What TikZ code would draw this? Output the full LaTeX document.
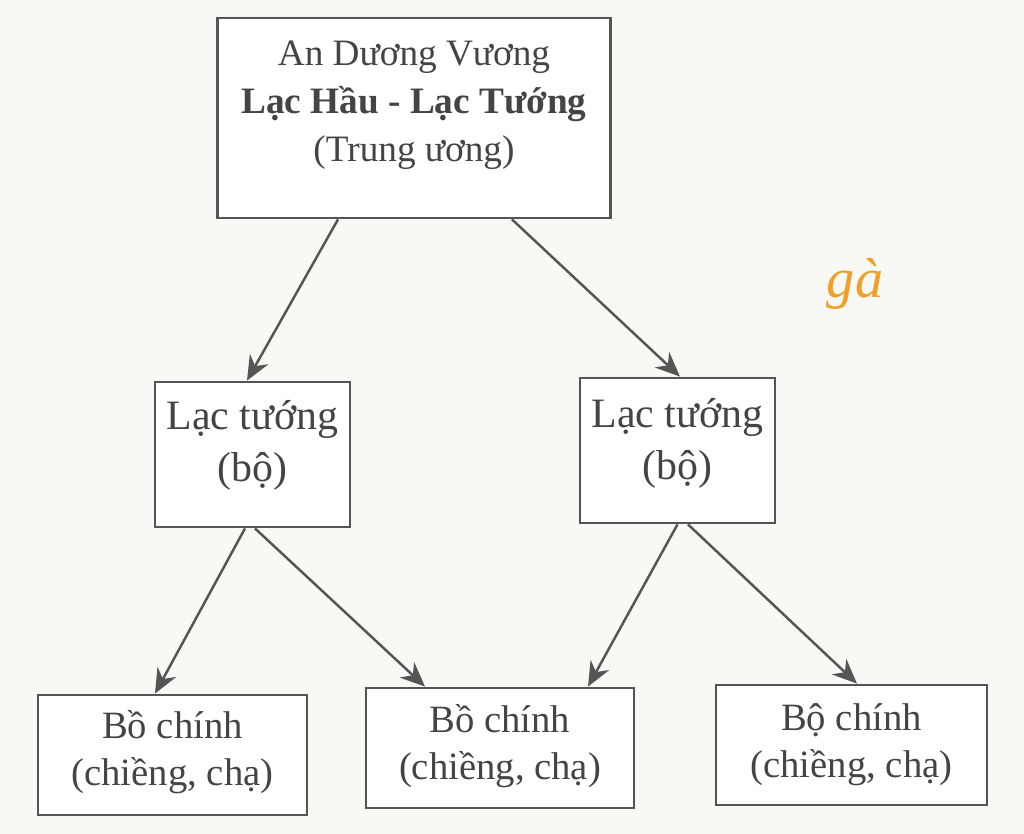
\documentclass[tikz,border=0pt]{standalone}
\usepackage{fontspec}
\setmainfont{Liberation Serif}
\usepackage{tikz}
\usetikzlibrary{arrows.meta}
\definecolor{scanbg}{HTML}{F8F8F5}
\definecolor{ink}{HTML}{555555}
\definecolor{pen}{HTML}{F0A028}
\tikzset{
  box/.style={draw=ink,line width=0.8pt,fill=white},
  txt/.style={align=center,text=ink!80!black,font=\fontsize{11}{13.4}\selectfont},
  link/.style={draw=ink,line width=0.7pt,-{Stealth[length=7pt,width=6pt]}}
}

\begin{document}
\begin{tikzpicture}
            \fill[scanbg] (0,0) rectangle (10.24,8.34);
            \useasboundingbox (0,0) rectangle (10.24,8.34);
            % boxes
            \node[box,minimum width=3.93cm,minimum height=2cm] (tw) at (4.14,7.16) {};
            \node[box,minimum width=1.95cm,minimum height=1.45cm] (bo1) at (2.525,3.795) {};
            \node[box,minimum width=1.95cm,minimum height=1.45cm] (bo2) at (6.775,3.835) {};
            \node[box,minimum width=2.69cm,minimum height=1.2cm] (ch1) at (1.725,0.79) {};
            \node[box,minimum width=2.68cm,minimum height=1.2cm] (ch2) at (5.00,0.86) {};
            \node[box,minimum width=2.71cm,minimum height=1.2cm] (ch3) at (8.515,0.89) {};
            % texts
            \node[txt,font=\fontsize{10.6}{13.6}\selectfont] (twtxt) at ([yshift=0.13cm]tw.center) {An Dương Vương\\\textbf{Lạc Hầu - Lạc Tướng}\\(Trung ương)};
            \node[txt,font=\fontsize{11.9}{14.7}\selectfont] (bo1txt) at ([yshift=0.09cm]bo1.center) {Lạc tướng\\(bộ)};
            \node[txt,font=\fontsize{11.9}{14.7}\selectfont] (bo2txt) at ([yshift=0.07cm]bo2.center) {Lạc tướng\\(bộ)};
            \node[txt] (ch1txt) at ([yshift=0.03cm]ch1.center) {Bồ chính\\(chiềng, chạ)};
            \node[txt] (ch2txt) at ([yshift=0.02cm]ch2.center) {Bồ chính\\(chiềng, chạ)};
            \node[txt] (ch3txt) at (ch3.center) {Bộ chính\\(chiềng, chạ)};
            % links
            \draw[link] ([xshift=-0.76cm]tw.south) -- ([xshift=-0.055cm]bo1.north);
            \draw[link] ([xshift=0.98cm]tw.south) -- ([xshift=0.025cm]bo2.north);
            \draw[link] ([xshift=-0.075cm]bo1.south) -- ([xshift=-0.175cm]ch1.north);
            \draw[link] ([xshift=0.025cm]bo1.south) -- ([xshift=-0.75cm]ch2.north);
            \draw[link] (bo2.south) -- ([xshift=0.88cm]ch2.north);
            \draw[link] ([xshift=0.105cm]bo2.south) -- ([xshift=0.055cm]ch3.north);
            % note in pen
            \node[text=pen,font=\fontsize{16}{16}\itshape] (note) at (8.55,5.5) {gà};
          \end{tikzpicture}
\end{document}
